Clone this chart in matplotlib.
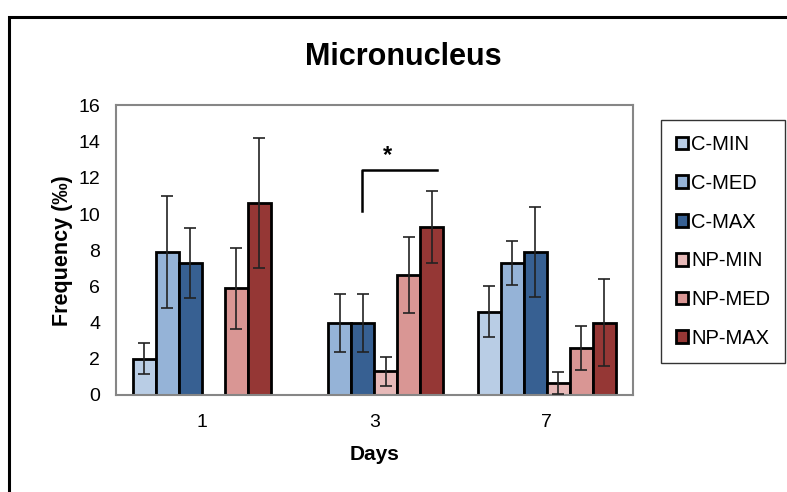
import numpy as np
import matplotlib
matplotlib.use("Agg")
import matplotlib.pyplot as plt
from matplotlib.patches import Rectangle

plt.rcParams['font.family'] = ['Liberation Sans', 'DejaVu Sans']

# Data (nan = no bar)
days = ['1', '3', '7']
series = ['C-MIN', 'C-MED', 'C-MAX', 'NP-MIN', 'NP-MED', 'NP-MAX']
c_min = [2.0, np.nan, 4.6]
c_med = [7.9, 4.0, 7.3]
c_max = [7.3, 4.0, 7.9]
np_min = [np.nan, 1.3, 0.65]
np_med = [5.9, 6.65, 2.6]
np_max = [10.6, 9.3, 4.0]
c_min_err = [0.85, np.nan, 1.4]
c_med_err = [3.1, 1.6, 1.2]
c_max_err = [1.95, 1.6, 2.5]
np_min_err = [np.nan, 0.8, 0.6]
np_med_err = [2.25, 2.1, 1.2]
np_max_err = [3.6, 2.0, 2.4]

values = [c_min, c_med, c_max, np_min, np_med, np_max]
errors = [c_min_err, c_med_err, c_max_err, np_min_err, np_med_err, np_max_err]
colors = ['#B9CDE5', '#95B3D7', '#376092', '#E6B9B8', '#D99694', '#953735']

fig = plt.figure(figsize=(7.87, 4.92), dpi=100)
ax = fig.add_axes([0.1468, 0.1972, 0.6575, 0.5884])

x = np.arange(len(days))
width = 0.8 / len(series)
for i, (vals, errs, col, name) in enumerate(zip(values, errors, colors, series)):
    pos = x - 0.4 + width * (i + 0.5)
    ax.bar(pos, vals, width, color=col, edgecolor='black', linewidth=2, label=name, zorder=2)
    ax.errorbar(pos, vals, yerr=errs, fmt='none', ecolor='#222222', elinewidth=1.2,
                capsize=4, capthick=1.2, zorder=3)

# significance bracket on day 3
ax.plot([0.927, 0.927, 1.366], [10.15, 12.42, 12.42], color='black', linewidth=1.8, zorder=4)
ax.text(1.078, 12.6, '*', ha='center', va='bottom', fontsize=17, fontweight='bold')

ax.set_xlim(-0.5, 2.5)
ax.set_ylim(0, 16)
ax.set_yticks(range(0, 17, 2))
ax.set_xticks(x)
ax.set_xticklabels(days)
ax.tick_params(length=0, labelsize=14)
ax.tick_params(axis='y', pad=11)
ax.tick_params(axis='x', pad=14)
for sp in ax.spines.values():
    sp.set_color('#868686')
    sp.set_linewidth(1.5)

ax.set_xlabel('Days', fontsize=15, fontweight='bold', labelpad=10)
ax.set_ylabel('Frequency (‰)', fontsize=15.5, fontweight='bold', labelpad=4)
fig.text(0.513, 0.884, 'Micronucleus', ha='center', va='center', fontsize=22, fontweight='bold')

leg = fig.legend(loc='upper left', bbox_to_anchor=(661 / 787, 1 - 120 / 492), fontsize=14.5,
                 frameon=True, fancybox=False, edgecolor='black', handlelength=0.6,
                 handleheight=0.6, handletextpad=0.15, labelspacing=0.98, borderpad=0.75,
                 borderaxespad=0)
leg.get_frame().set_linewidth(1)

# outer chart border (cropped at right and bottom)
fig.patches.append(Rectangle((9 / 787, -0.1), 1.2, 1.1 - 17 / 492, transform=fig.transFigure,
                             fill=False, edgecolor='black', linewidth=2.2))

fig.savefig('out.png', dpi=100)
